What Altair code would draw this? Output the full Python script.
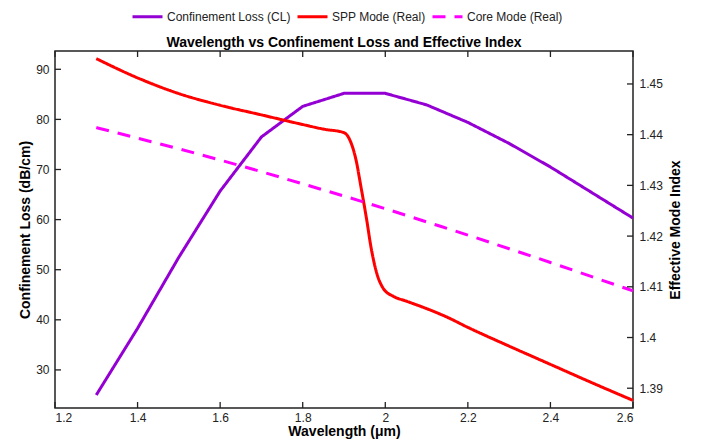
import altair as alt
import pandas as pd

# ---- data ----
wavelength = [1.3, 1.4, 1.5, 1.6, 1.7, 1.8, 1.9, 2.0, 2.1, 2.2, 2.3, 2.4, 2.5, 2.6]
conf_loss = [25.0, 38.3, 52.5, 65.7, 76.5, 82.6, 85.2, 85.2, 82.9, 79.4, 75.2, 70.5, 65.4, 60.3]
core_mode = [1.4414, 1.4393, 1.4372, 1.4350, 1.4327, 1.4303, 1.4279, 1.4254,
             1.4228, 1.4202, 1.4175, 1.4148, 1.4120, 1.4092]

spp_wavelength = [1.3, 1.4, 1.5, 1.6, 1.7, 1.8, 1.85, 1.9, 1.915, 1.93, 1.94, 1.955,
                  1.965, 1.98, 1.995, 2.02, 2.05, 2.1, 2.15, 2.2, 2.3, 2.4, 2.5, 2.6]
spp_mode = [1.4550, 1.4512, 1.4481, 1.4458, 1.4439, 1.4420, 1.4411, 1.4404, 1.4388,
            1.4347, 1.4302, 1.4232, 1.4180, 1.4125, 1.4097, 1.4081, 1.4072, 1.4057,
            1.4040, 1.4020, 1.3983, 1.3947, 1.3911, 1.3876]

series_names = ["Confinement Loss (CL)", "SPP Mode (Real)", "Core Mode (Real)"]
series_colors = ["#9400D3", "#FF0000", "#FF00FF"]

x_ticks = [1.2, 1.4, 1.6, 1.8, 2.0, 2.2, 2.4, 2.6]
left_ticks = [30, 40, 50, 60, 70, 80, 90]
right_ticks = [1.39, 1.40, 1.41, 1.42, 1.43, 1.44, 1.45]

x_domain = [1.2, 2.6]
left_domain = [22.4, 93.65]
right_domain = [1.3861, 1.4565]

# ---- tables ----
df_cl = pd.DataFrame({"wl": wavelength, "v": conf_loss, "s": series_names[0]})
df_idx = pd.concat([
    pd.DataFrame({"wl": spp_wavelength, "v": spp_mode, "s": series_names[1]}),
    pd.DataFrame({"wl": wavelength, "v": core_mode, "s": series_names[2]}),
], ignore_index=True)
df_xt = pd.DataFrame({"wl": x_ticks})
df_lt = pd.DataFrame({"v": left_ticks})
df_rt = pd.DataFrame({"v": right_ticks})

W, H = 578, 357
FONT = "Liberation Sans"
TICK = 6

xs = alt.Scale(domain=x_domain, nice=False, zero=False)
yl = alt.Scale(domain=left_domain, nice=False, zero=False)
yr = alt.Scale(domain=right_domain, nice=False, zero=False)

x_axis = alt.Axis(values=x_ticks, format="~r", title="Wavelength (μm)", labelPadding=4, titlePadding=1.5)
left_axis = alt.Axis(orient="left", values=left_ticks, format="~r",
                     title="Confinement Loss (dB/cm)", labelPadding=6, titlePadding=3)
right_axis = alt.Axis(orient="right", values=right_ticks, format="~r",
                      title="Effective Mode Index", labelPadding=6, titlePadding=6,
                      titleAngle=270, titleBaseline="top")

legend = alt.Legend(
    title=None, orient="none", direction="horizontal",
    legendX=76, legendY=-51,
    symbolType="stroke", symbolSize=900, symbolStrokeWidth=3,
    labelFont=FONT, labelFontSize=12, labelColor="#222",
    columnPadding=0, labelOffset=3,
)
color = alt.Color("s:N", scale=alt.Scale(domain=series_names, range=series_colors), legend=legend)
dash = alt.StrokeDash("s:N", scale=alt.Scale(domain=series_names, range=[[1, 0], [1, 0], [13, 9]]), legend=legend)

x_enc = alt.X("wl:Q", scale=xs, axis=x_axis)

cl_line = alt.Chart(df_cl).mark_line(strokeWidth=3).encode(
    x=x_enc,
    y=alt.Y("v:Q", scale=yl, axis=left_axis),
    color=color, strokeDash=dash,
)
idx_lines = alt.Chart(df_idx).mark_line(strokeWidth=3, interpolate="monotone").encode(
    x=x_enc,
    y=alt.Y("v:Q", scale=yr, axis=right_axis),
    color=color, strokeDash=dash, detail="s:N",
)

tick_style = dict(color="#222", strokeWidth=1.3)
left_tick_marks = alt.Chart(df_lt).mark_rule(**tick_style).encode(
    y=alt.Y("v:Q", scale=yl, axis=left_axis), x=alt.value(0), x2=alt.value(TICK))
right_tick_marks = alt.Chart(df_rt).mark_rule(**tick_style).encode(
    y=alt.Y("v:Q", scale=yr, axis=right_axis), x=alt.value(W), x2=alt.value(W - TICK))
bottom_tick_marks = alt.Chart(df_xt).mark_rule(**tick_style).encode(
    x=x_enc, y=alt.value(H), y2=alt.value(H - TICK))
top_tick_marks = alt.Chart(df_xt).mark_rule(**tick_style).encode(
    x=x_enc, y=alt.value(0), y2=alt.value(TICK))

left_part = alt.layer(cl_line, left_tick_marks, bottom_tick_marks, top_tick_marks)
right_part = alt.layer(idx_lines, right_tick_marks)

chart = alt.layer(left_part, right_part).resolve_scale(y="independent").properties(
    width=W, height=H,
    title=alt.Title("Wavelength vs Confinement Loss and Effective Index", frame="group", offset=-50),
    autosize=alt.AutoSizeParams(type="none"),
    padding={"left": 47, "top": 43, "right": 62, "bottom": 32},
).configure_axis(
    labelFont=FONT, titleFont=FONT, labelFontSize=12, titleFontSize=14, titleFontWeight="bold",
    labelColor="#222", titleColor="#000", grid=False, ticks=False, tickSize=0, domain=False,
).configure_view(
    stroke="#222", strokeWidth=1.5,
).configure_title(
    font=FONT, fontSize=14, fontWeight="bold", color="#000", anchor="middle",
)

chart.save("out.html", embed_options={"renderer": "svg", "actions": False})
